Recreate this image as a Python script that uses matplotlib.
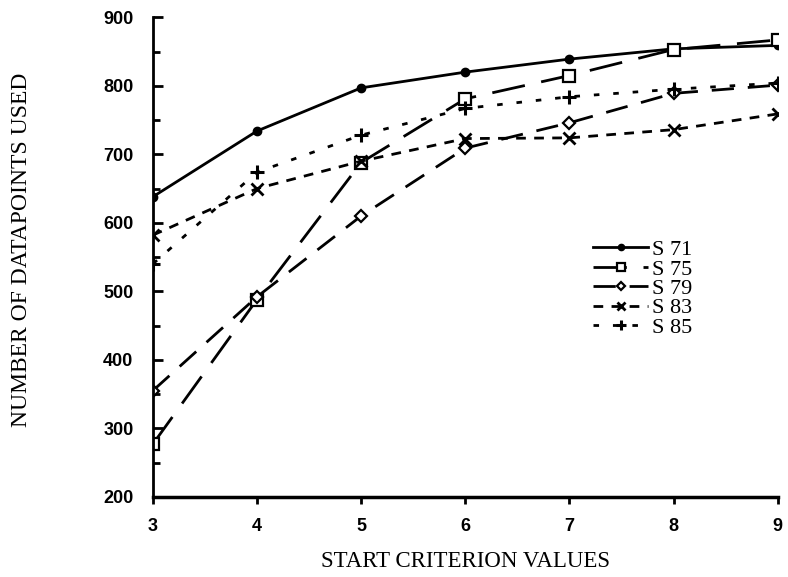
import matplotlib
matplotlib.use('Agg')
import matplotlib.pyplot as plt
from matplotlib.ticker import MultipleLocator

# start criterion values and number of datapoints used per series
x = [3, 4, 5, 6, 7, 8, 9]
s71 = [638, 734, 797, 820, 839, 854, 859]
s75 = [277, 488, 688, 781, 815, 853, 867]
s79 = [355, 492, 610, 709, 746, 789, 801]
s83 = [582, 650, 690, 723, 724, 736, 759]
s85 = [540, 674, 728, 767, 784, 795, 804]

fig = plt.figure(figsize=(7.88, 5.77), dpi=100)
ax = fig.add_axes([0.194, 0.139, 0.793, 0.831])

ax.plot(x, s71, color='black', lw=2, ls='-', marker='o', ms=6, label='S 71')
ax.plot(x, s75, color='black', lw=2, ls=(0, (12, 6)), marker='s', ms=8,
        mfc='white', mew=1.6, label='S 75')
ax.plot(x, s79, color='black', lw=2, ls=(0, (8, 5)), marker='D', ms=6,
        mfc='white', mew=1.6, label='S 79')
ax.plot(x, s83, color='black', lw=2, ls=(0, (3.5, 3)), marker='x', ms=8,
        mew=2, label='S 83')
ax.plot(x, s85, color='black', lw=2, ls=(0, (2, 5)), marker='+', ms=10,
        mew=2.2, label='S 85')

ax.set_xlim(3, 9)
ax.set_ylim(200, 900)
ax.xaxis.set_major_locator(MultipleLocator(1))
ax.yaxis.set_major_locator(MultipleLocator(100))
ax.yaxis.set_minor_locator(MultipleLocator(50))
ax.spines['top'].set_visible(False)
ax.spines['right'].set_visible(False)
ax.spines['left'].set_linewidth(2)
ax.spines['bottom'].set_linewidth(2.5)
ax.tick_params(axis='y', which='major', direction='in', length=7, width=2)
ax.tick_params(axis='y', which='minor', direction='in', length=5, width=2)
ax.tick_params(axis='x', direction='out', length=5, width=2, pad=10)
ax.tick_params(axis='y', pad=14)
for lab in ax.get_xticklabels() + ax.get_yticklabels():
    lab.set_fontfamily('Liberation Sans')
    lab.set_fontweight('bold')
    lab.set_fontsize(13)

ax.set_xlabel('START CRITERION VALUES', family='Liberation Serif', fontsize=16.5, labelpad=12)
ax.set_ylabel('NUMBER OF DATAPOINTS USED', family='Liberation Serif', fontsize=17)
ax.yaxis.set_label_coords(-0.193, 0.515)

leg = ax.legend(loc='upper left', bbox_to_anchor=(0.69, 0.555), frameon=False,
                prop={'family': 'Liberation Serif', 'size': 16}, handlelength=2.5,
                handletextpad=0.15, labelspacing=-0.05, borderaxespad=0,
                markerscale=0.75)

fig.savefig('out.png', dpi=100)
